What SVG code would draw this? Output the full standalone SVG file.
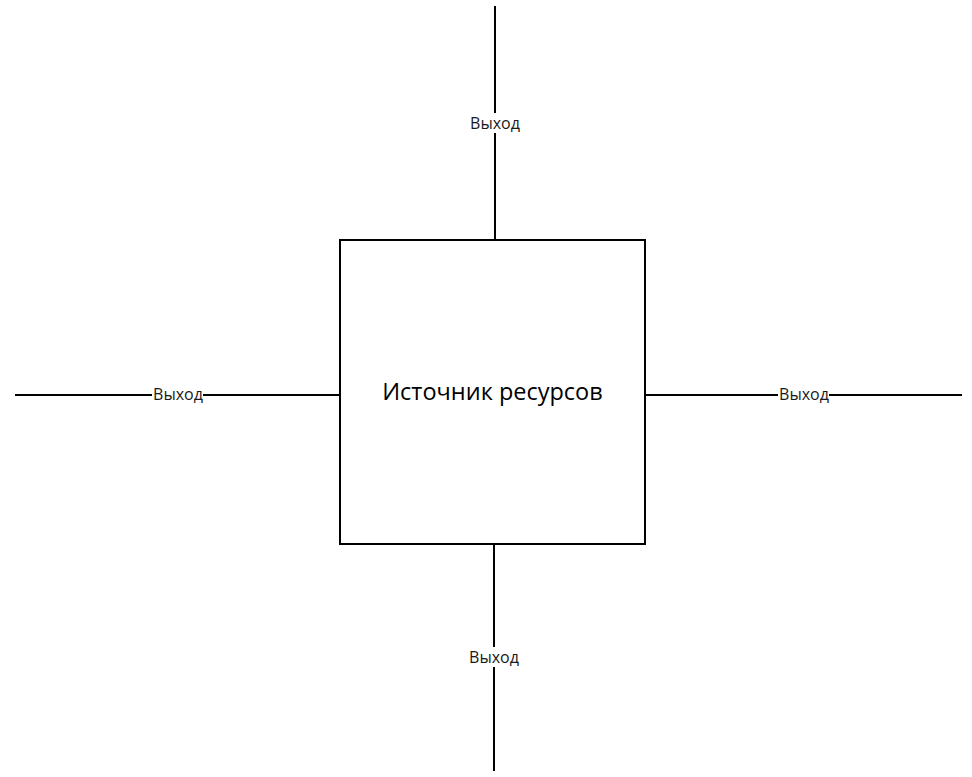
<svg xmlns="http://www.w3.org/2000/svg" width="972" height="777" viewBox="0 0 972 777">
<style>
.ln{stroke:#000;stroke-width:2;fill:none}
.lb{font-family:"Open Sans","Noto Sans",sans-serif;font-size:16px;fill:#1a1a1a;text-anchor:middle;dominant-baseline:central}
.bg{fill:#fff}
.main{font-family:"Open Sans","Noto Sans",sans-serif;font-size:23.5px;fill:#000;text-anchor:middle;dominant-baseline:central}
</style>
<rect width="972" height="777" fill="#fff"/>
<g id="connectors">
<line class="ln" x1="495" y1="6" x2="495" y2="240"/>
<line class="ln" x1="15" y1="395" x2="340" y2="395"/>
<line class="ln" x1="645" y1="395" x2="962" y2="395"/>
<line class="ln" x1="494" y1="544" x2="494" y2="771"/>
<g id="label-top"><rect class="bg" x="466" y="113" width="58" height="20"/><text class="lb" x="495" y="123">Выход</text></g>
<g id="label-left"><rect class="bg" x="152" y="386" width="51" height="18"/><text class="lb" x="178" y="394">Выход</text></g>
<g id="label-right"><rect class="bg" x="778" y="386" width="51" height="18"/><text class="lb" x="804" y="394">Выход</text></g>
<g id="label-bottom"><rect class="bg" x="465" y="647" width="58" height="20"/><text class="lb" x="494" y="657">Выход</text></g>
</g>
<g id="node-source">
<rect class="ln" x="340" y="240" width="305" height="304" fill="#fff"/>
<text class="main" x="492.5" y="391">Источник ресурсов</text>
</g>
</svg>
